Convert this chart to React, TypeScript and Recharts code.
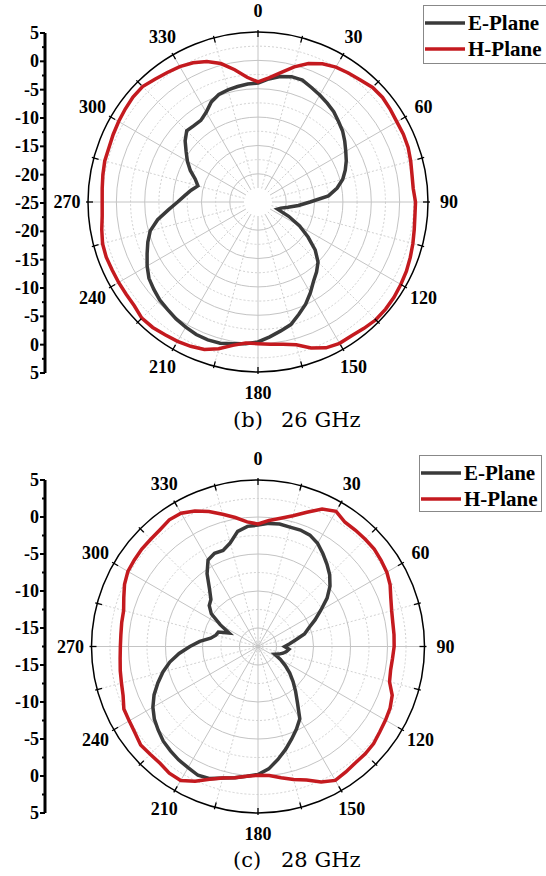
import {
  RadarChart, Radar, PolarGrid, PolarAngleAxis, PolarRadiusAxis,
  LineChart, Line, XAxis, YAxis,
} from 'recharts'

// angle categories, every 5 degrees
const ANGLES = Array.from({ length: 72 }, (_, i) => i * 5)

// (b) 26 GHz, dB
const E_26 = [
  -4.0, -3.2, -2.5, -2.1, -2.1, -2.7, -3.2, -3.7, -4.2, -4.9, -5.5, -6.3,
  -7.1, -7.8, -8.6, -9.5, -10.8, -12.5, -15.8, -17.8, -19.6, -20.8, -21.3, -19.0,
  -16.5, -14.2, -11.8, -10.0, -8.9, -7.9, -6.5, -5.1, -3.9, -2.6, -1.9, -1.1,
  -0.3, 0.1, 0.4, 0.8, 0.9, 0.8, 0.5, 0.2, -0.2, -0.5, -1.0, -1.5,
  -2.4, -3.4, -4.3, -5.3, -7.0, -9.1, -10.8, -12.0, -13.0, -14.0, -13.2, -11.8,
  -10.6, -9.5, -8.2, -7.2, -7.4, -7.4, -6.7, -5.5, -4.8, -4.5, -4.3, -4.1,
]
const H_26 = [
  -3.8, -3.0, -1.8, -0.3, 1.0, 1.9, 2.5, 2.8, 3.1, 3.6, 3.7, 3.5,
  3.3, 3.3, 3.2, 2.9, 2.6, 2.5, 2.8, 2.8, 3.0, 3.3, 3.6, 3.9,
  4.1, 4.3, 4.4, 4.4, 4.1, 3.8, 3.8, 3.4, 2.4, 1.1, 0.5, 0.2,
  0.0, 0.0, 0.7, 1.8, 2.7, 3.1, 3.4, 3.6, 3.9, 4.0, 3.5, 3.4,
  3.4, 3.4, 3.5, 3.4, 3.0, 2.6, 2.5, 2.6, 2.8, 3.0, 3.0, 3.2,
  3.4, 3.6, 3.8, 3.8, 3.3, 2.9, 2.6, 2.1, 1.4, 0.3, -1.3, -2.9,
]

// (c) 28 GHz, dB
const E_28 = [
  -1.1, -0.8, -0.7, -0.8, -0.75, -0.9, -1.4, -2.2, -3.0, -3.8, -4.8, -6.1,
  -7.7, -9.0, -10.2, -11.0, -12.3, -13.2, -13.9, -13.3, -13.6, -14.0, -14.5, -15.0,
  -14.0, -13.0, -11.9, -10.8, -9.6, -8.2, -6.2, -5.2, -4.2, -3.1, -2.0, -0.9,
  -0.2, 0.1, 0.5, 0.9, 1.5, 1.7, 1.4, 1.2, 0.9, 0.6, 0.1, -0.4,
  -1.1, -2.0, -3.1, -4.2, -5.4, -6.8, -8.3, -9.6, -11.0, -11.6, -11.8, -13.2,
  -11.6, -9.8, -8.9, -8.5, -7.3, -5.5, -4.0, -3.6, -3.7, -3.0, -1.7, -1.2,
]
const H_28 = [
  -0.95, -0.4, 0.1, 0.8, 1.8, 3.0, 3.6, 3.0, 3.0, 3.0, 3.0, 2.8,
  2.6, 2.2, 1.6, 1.2, 1.0, 0.95, 0.9, 0.75, 0.7, 0.9, 1.8, 2.2,
  2.4, 2.6, 2.9, 3.0, 3.0, 3.2, 3.4, 2.7, 1.7, 1.1, 0.5, 0.0,
  -0.1, 0.1, 0.5, 0.9, 1.6, 2.6, 3.4, 3.4, 3.1, 3.1, 3.2, 2.8,
  2.6, 2.5, 1.9, 1.6, 1.4, 1.2, 1.1, 1.1, 1.2, 1.3, 1.8, 2.4,
  2.8, 2.9, 3.0, 3.0, 3.1, 3.4, 3.3, 2.7, 1.9, 1.0, 0.2, -0.6,
]

// left-hand linear dB scales
const SIDE_LABELS_26 = ['5', '0', '-5', '-10', '-15', '-20', '-25', '-20', '-15', '-10', '-5', '0', '5']
const SIDE_LABELS_28 = ['5', '0', '-5', '-10', '-15', '-15', '-10', '-5', '0', '5']

const SOLID_RINGS_26 = [-20, -15, -10, -5, 0]
const DASHED_RINGS_26 = [-17.5, -12.5, -7.5, -2.5, 2.5]
const SOLID_RINGS_28 = [-15, -10, -5, 0]
const DASHED_RINGS_28 = [-12.5, -7.5, -2.5, 2.5]

const SOLID_SPOKES = [0, 30, 60, 90, 120, 150, 180, 210, 240, 270, 300, 330]
const DASHED_SPOKES = [15, 45, 75, 105, 135, 165, 195, 225, 255, 285, 315, 345]

const BOLD = { fontFamily: 'Liberation Serif', fontWeight: 700 }
const CAPTION = { fontFamily: 'DejaVu Serif', fontSize: 21 }
const E_COLOR = '#3a3a3a'
const H_COLOR = '#c41a1f'

const ringRadii = (values: number[], domain: number[], inner: number, outer: number) =>
  values.map(v => inner + ((v - domain[0]) / (domain[1] - domain[0])) * (outer - inner))

function angleTick(cx: number, cy: number, R: number) {
  return (props: any) => {
    const { x, y, payload } = props
    const a = Number(payload.value)
    if (a % 15 !== 0) return <g />
    const dx = x - cx
    const dy = y - cy
    const d = Math.hypot(dx, dy) || 1
    const ux = dx / d
    const uy = dy / d
    return (
      <g>
        <line x1={cx + ux * (R + 2)} y1={cy + uy * (R + 2)} x2={cx + ux * (R - 5)} y2={cy + uy * (R - 5)}
          stroke="#000" strokeWidth={1.3} />
        {a % 30 === 0 && (
          <text x={cx + ux * (R + 21)} y={cy + uy * (R + 21)} textAnchor="middle" dominantBaseline="central"
            style={{ ...BOLD, fontSize: 18 }} fill="#000">{a}</text>
        )}
      </g>
    )
  }
}

function PolarPanel({ top, height, cy, outer, inner, domain, e, h, solidRings, dashedRings }: any) {
  const cx = 258
  const data = ANGLES.map((angle, i) => ({ angle, E: e[i], H: h[i] }))
  return (
    <div style={{ position: 'absolute', left: 0, top }}>
      <RadarChart width={546} height={height} data={data} cx={cx} cy={cy}
        outerRadius={outer} innerRadius={inner} margin={{ top: 0, right: 0, bottom: 0, left: 0 }}>
        <PolarGrid gridType="circle" polarAngles={DASHED_SPOKES}
          polarRadius={ringRadii(dashedRings, domain, inner, outer)}
          stroke="#d2d2d2" strokeDasharray="2 2" />
        <PolarGrid gridType="circle" polarAngles={SOLID_SPOKES}
          polarRadius={ringRadii(solidRings, domain, inner, outer)}
          stroke="#c4c4c4" />
        <PolarRadiusAxis type="number" domain={domain} allowDataOverflow tick={false} axisLine={false} />
        <PolarAngleAxis dataKey="angle" axisLineType="circle" stroke="#000"
          axisLine={{ stroke: '#000', strokeWidth: 1.5 }} tickLine={false} tickSize={0}
          tick={angleTick(cx, cy, outer)} />
        <Radar name="E-Plane" dataKey="E" stroke={E_COLOR} strokeWidth={3.5} fill="none" fillOpacity={0}
          dot={false} isAnimationActive={false} />
        <Radar name="H-Plane" dataKey="H" stroke={H_COLOR} strokeWidth={3.5} fill="none" fillOpacity={0}
          dot={false} isAnimationActive={false} />
      </RadarChart>
    </div>
  )
}

function sideTick(labels: string[]) {
  return (props: any) => {
    const { x, y, payload } = props
    const v = Number(payload.value)
    const major = Number.isInteger(v)
    return (
      <g>
        <line x1={x - (major ? 5 : 3)} y1={y} x2={x} y2={y} stroke="#000" strokeWidth={2} />
        {major && (
          <text x={x - 6} y={y} textAnchor="end" dominantBaseline="central"
            style={{ ...BOLD, fontSize: 18 }} fill="#000">{labels[v]}</text>
        )}
      </g>
    )
  }
}

function SideAxis({ top, plotHeight, labels }: { top: number, plotHeight: number, labels: string[] }) {
  const data = labels.map((label, i) => ({ pos: i, label }))
  const ticks: number[] = []
  labels.forEach((_, i) => {
    ticks.push(i)
    if (i < labels.length - 1) ticks.push(i + 0.5)
  })
  return (
    <div style={{ position: 'absolute', left: 0, top }}>
      <LineChart width={60} height={plotHeight + 20} data={data} margin={{ top: 10, bottom: 10, left: 0, right: 0 }}>
        <XAxis dataKey="pos" hide />
        <YAxis type="number" domain={[0, labels.length - 1]} reversed ticks={ticks} interval={0} width={45}
          tickSize={0} tickMargin={0} tickLine={false} axisLine={{ stroke: '#000', strokeWidth: 3 }}
          tick={sideTick(labels)} />
        <Line dataKey="pos" stroke="none" dot={false} isAnimationActive={false} />
      </LineChart>
    </div>
  )
}

function LegendBox({ x, y, w, h }: { x: number, y: number, w: number, h: number }) {
  const rows = [{ name: 'E-Plane', color: E_COLOR }, { name: 'H-Plane', color: H_COLOR }]
  return (
    <g>
      <rect x={x + 0.5} y={y + 0.5} width={w} height={h} fill="#fff" stroke="#888" strokeWidth={1} />
      {rows.map((r, i) => (
        <g key={r.name}>
          <line x1={x + 2} x2={x + 42} y1={y + 18 + i * 26} y2={y + 18 + i * 26} stroke={r.color} strokeWidth={3.5} />
          <text x={x + 45} y={y + 18 + i * 26} dominantBaseline="central"
            style={{ ...BOLD, fontSize: 21 }} fill="#000">{r.name}</text>
        </g>
      ))}
    </g>
  )
}

export default function App() {
  return (
    <div style={{ position: 'absolute', left: 0, top: 0, width: 546, height: 876, background: '#fff', overflow: 'hidden' }}>
      <PolarPanel top={0} height={440} cy={202} outer={170} inner={14} domain={[-22.5, 5]}
        e={E_26} h={H_26} solidRings={SOLID_RINGS_26} dashedRings={DASHED_RINGS_26} />
      <PolarPanel top={440} height={436} cy={206.5} outer={166.5} inner={0} domain={[-17.5, 5]}
        e={E_28} h={H_28} solidRings={SOLID_RINGS_28} dashedRings={DASHED_RINGS_28} />
      <SideAxis top={23} plotHeight={340} labels={SIDE_LABELS_26} />
      <SideAxis top={470} plotHeight={333} labels={SIDE_LABELS_28} />
      <svg style={{ position: 'absolute', left: 0, top: 0 }} width={546} height={876}>
        <LegendBox x={423} y={5} w={140} h={58} />
        <LegendBox x={419} y={455} w={122} h={56} />
        <text x={233} y={427} style={CAPTION} fill="#000">(b)</text>
        <text x={281} y={427} style={CAPTION} fill="#000">26 GHz</text>
        <text x={233} y={867} style={CAPTION} fill="#000">(c)</text>
        <text x={281} y={867} style={CAPTION} fill="#000">28 GHz</text>
      </svg>
    </div>
  )
}
